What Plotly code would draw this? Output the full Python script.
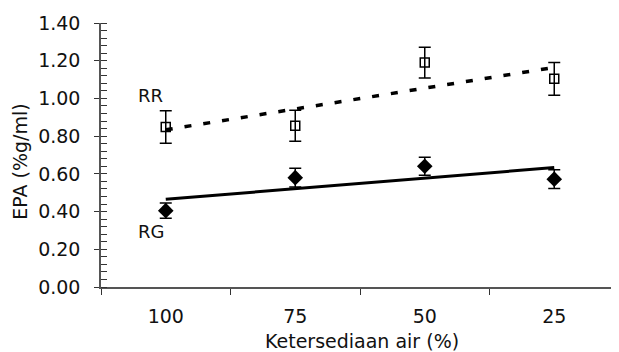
import numpy as np
import plotly.graph_objects as go

categories = ["100", "75", "50", "25"]
rr_values = [0.848, 0.855, 1.190, 1.104]
rr_errors = [0.086, 0.082, 0.082, 0.087]
rg_values = [0.405, 0.580, 0.640, 0.572]
rg_errors = [0.040, 0.050, 0.048, 0.050]
y_ticks = [0.0, 0.2, 0.4, 0.6, 0.8, 1.0, 1.2, 1.4]
y_ticktext = ["0.00", "0.20", "0.40", "0.60", "0.80", "1.00", "1.20", "1.40"]

FONT = "DejaVu Sans"
idx = np.arange(len(categories))
rr_fit = np.polyval(np.polyfit(idx, rr_values, 1), idx)
rg_fit = np.polyval(np.polyfit(idx, rg_values, 1), idx)

fig = go.Figure()
fig.add_trace(go.Scatter(
    x=[categories[0], categories[-1]], y=[rr_fit[0], rr_fit[-1]], mode="lines",
    line=dict(color="black", width=3.5, dash="7px,12px"), hoverinfo="skip"))
fig.add_trace(go.Scatter(
    x=[categories[0], categories[-1]], y=[rg_fit[0], rg_fit[-1]], mode="lines",
    line=dict(color="black", width=3), hoverinfo="skip"))
fig.add_trace(go.Scatter(
    x=categories, y=rr_values, mode="markers",
    marker=dict(symbol="square-open", size=9, color="black", line=dict(width=1.5)),
    error_y=dict(type="data", array=rr_errors, color="black", thickness=1.5, width=6)))
fig.add_trace(go.Scatter(
    x=categories, y=rg_values, mode="markers",
    marker=dict(symbol="diamond", size=12, color="black"),
    error_y=dict(type="data", array=rg_errors, color="black", thickness=1.5, width=6)))

fig.add_annotation(x=-0.115, y=1.017, text="RR", showarrow=False,
                   font=dict(family=FONT, size=18, color="#111"))
fig.add_annotation(x=-0.115, y=0.295, text="RG", showarrow=False,
                   font=dict(family=FONT, size=18, color="#111"))
fig.add_annotation(xref="paper", yref="paper", x=0.503, y=-0.205, yanchor="middle",
                   text="Ketersediaan air (%)", showarrow=False, borderpad=0,
                   font=dict(family=FONT, size=19, color="#111"))
fig.add_annotation(xref="paper", yref="paper", x=-0.157, y=0.473, xanchor="center",
                   yanchor="middle", textangle=-90,
                   text="EPA (%g/ml)", showarrow=False,
                   font=dict(family=FONT, size=19, color="#111"))

# page body has an 8px default margin, so the figure is 8px smaller
fig.update_layout(
    width=611, height=344, showlegend=False,
    paper_bgcolor="white", plot_bgcolor="white",
    margin=dict(l=93, r=0, t=15, b=65),
    font=dict(family=FONT, color="#111"),
)
fig.update_xaxes(
    type="category", categoryorder="array", categoryarray=categories,
    range=[-0.5, 3.5], showgrid=False, zeroline=False,
    showline=True, linecolor="#555", linewidth=1.5,
    ticks="outside", tickson="boundaries", ticklen=6, tickcolor="#333", tickwidth=1.2,
    tickfont=dict(family=FONT, size=19, color="#111"),
    ticklabelstandoff=11, automargin=False,
)
fig.update_yaxes(
    range=[0, 1.4], showgrid=False, zeroline=False,
    showline=True, linecolor="#555", linewidth=1.5,
    tickvals=y_ticks, ticktext=y_ticktext,
    ticks="outside", ticklen=5, tickcolor="#333", tickwidth=1.2,
    minor=dict(ticks="inside", dtick=0.04, ticklen=6, tickcolor="#333", tickwidth=1),
    tickfont=dict(family=FONT, size=19, color="#111"),
    ticklabelstandoff=10, automargin=False,
)

fig.write_html("out.html")
